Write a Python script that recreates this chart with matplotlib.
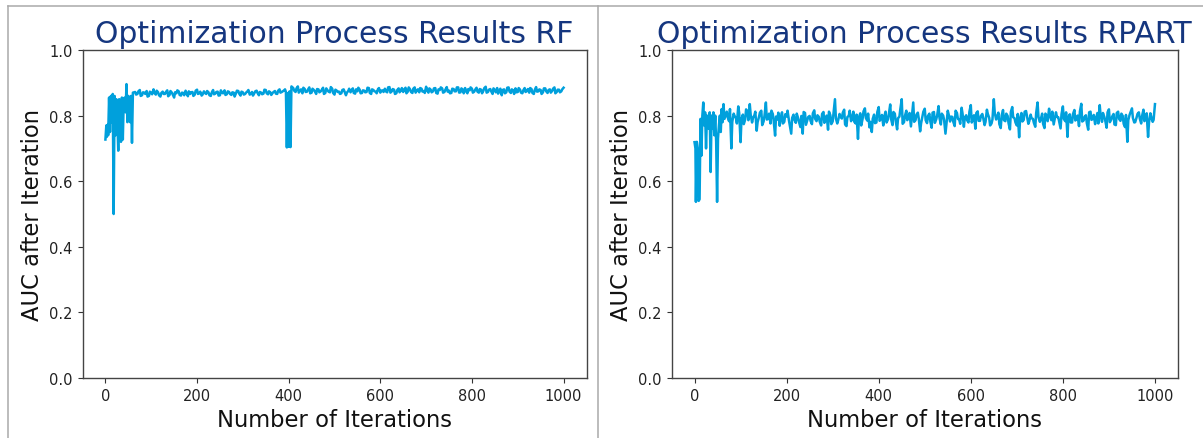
import numpy as np
import matplotlib.pyplot as plt
from matplotlib.lines import Line2D

# --- RF optimisation run (AUC per iteration) ---
rf_early_iter = [0, 2, 3, 5, 6] + list(range(8, 61, 2))
rf_early_auc = [0.727, 0.770, 0.735, 0.772, 0.74, 0.855, 0.75, 0.86, 0.78, 0.866,
                0.500, 0.86, 0.74, 0.85, 0.79, 0.693, 0.85, 0.84, 0.72, 0.855,
                0.727, 0.85, 0.855, 0.81, 0.896, 0.78, 0.86, 0.855, 0.78, 0.86,
                0.717, 0.87]

rf_mid_iter = list(range(65, 391, 5))
rf_mid_auc = [0.872, 0.866, 0.878, 0.862, 0.870, 0.875, 0.860, 0.869, 0.880, 0.864,
              0.871, 0.858, 0.873, 0.866, 0.877, 0.863, 0.870, 0.855, 0.868, 0.874,
              0.861, 0.869, 0.876, 0.859, 0.866, 0.872, 0.864, 0.879, 0.868, 0.861,
              0.874, 0.866, 0.871, 0.860, 0.878, 0.867, 0.873, 0.862, 0.869, 0.877,
              0.865, 0.872, 0.863, 0.870, 0.868, 0.875, 0.861, 0.871, 0.866, 0.874,
              0.864, 0.872, 0.868, 0.876, 0.862, 0.870, 0.867, 0.878, 0.865, 0.871,
              0.869, 0.875, 0.866, 0.880, 0.872, 0.877]
rf_mid2_iter = list(range(67, 391, 5))
rf_mid2_auc = [0.864, 0.874, 0.860, 0.871, 0.866, 0.858, 0.873, 0.865, 0.870, 0.876,
               0.862, 0.869, 0.866, 0.872, 0.859, 0.875, 0.864, 0.871, 0.877, 0.863,
               0.870, 0.862, 0.868, 0.874, 0.871, 0.860, 0.876, 0.866, 0.873, 0.864,
               0.869, 0.875, 0.862, 0.870, 0.865, 0.872, 0.861, 0.877, 0.868, 0.863,
               0.874, 0.866, 0.871, 0.858, 0.876, 0.867, 0.873, 0.864, 0.870, 0.878,
               0.866, 0.861, 0.874, 0.869, 0.872, 0.865, 0.879, 0.868, 0.874, 0.863,
               0.872, 0.867, 0.876, 0.870, 0.874]

rf_dip_iter = [392, 394, 396, 398, 400, 402, 404, 406]
rf_dip_auc = [0.880, 0.872, 0.703, 0.868, 0.705, 0.874, 0.704, 0.889]

rf_late_iter = list(range(410, 1001, 5))
rf_late_auc = [0.884, 0.872, 0.889, 0.876, 0.868, 0.881, 0.873, 0.886, 0.870, 0.878,
               0.866, 0.880, 0.874, 0.885, 0.869, 0.877, 0.871, 0.882, 0.864, 0.876,
               0.873, 0.868, 0.880, 0.862, 0.875, 0.871, 0.883, 0.867, 0.874, 0.879,
               0.869, 0.876, 0.872, 0.884, 0.866, 0.878, 0.873, 0.881, 0.870, 0.877,
               0.882, 0.871, 0.887, 0.874, 0.879, 0.868, 0.883, 0.876, 0.872, 0.885,
               0.873, 0.880, 0.869, 0.886, 0.877, 0.871, 0.882, 0.875, 0.888, 0.870,
               0.879, 0.874, 0.884, 0.867, 0.878, 0.883, 0.872, 0.887, 0.876, 0.869,
               0.881, 0.874, 0.886, 0.871, 0.879, 0.884, 0.868, 0.877, 0.882, 0.873,
               0.885, 0.870, 0.879, 0.876, 0.888, 0.872, 0.881, 0.866, 0.878, 0.884,
               0.874, 0.862, 0.880, 0.871, 0.886, 0.869, 0.877, 0.883, 0.872, 0.879,
               0.868, 0.884, 0.875, 0.870, 0.881, 0.866, 0.887, 0.874, 0.878, 0.871,
               0.883, 0.869, 0.880, 0.875, 0.886, 0.872, 0.879, 0.874, 0.885]
rf_late2_iter = list(range(412, 1001, 5))
rf_late2_auc = [0.876, 0.883, 0.870, 0.880, 0.885, 0.872, 0.879, 0.868, 0.882, 0.874,
                0.881, 0.871, 0.878, 0.866, 0.883, 0.873, 0.887, 0.869, 0.879, 0.872,
                0.866, 0.878, 0.873, 0.870, 0.882, 0.877, 0.869, 0.880, 0.885, 0.868,
                0.877, 0.871, 0.885, 0.869, 0.880, 0.874, 0.868, 0.884, 0.876, 0.872,
                0.874, 0.886, 0.870, 0.881, 0.866, 0.878, 0.871, 0.884, 0.879, 0.868,
                0.886, 0.872, 0.882, 0.870, 0.880, 0.884, 0.873, 0.869, 0.878, 0.883,
                0.871, 0.883, 0.869, 0.880, 0.886, 0.870, 0.879, 0.873, 0.868, 0.882,
                0.874, 0.886, 0.870, 0.883, 0.868, 0.875, 0.881, 0.886, 0.870, 0.879,
                0.873, 0.881, 0.868, 0.884, 0.870, 0.879, 0.874, 0.883, 0.871, 0.867,
                0.882, 0.878, 0.868, 0.885, 0.873, 0.880, 0.866, 0.871, 0.884, 0.870,
                0.877, 0.872, 0.881, 0.884, 0.869, 0.878, 0.873, 0.880, 0.866, 0.883,
                0.874, 0.878, 0.870, 0.882, 0.868, 0.879, 0.871, 0.880]

# --- RPART optimisation run ---
rp_early_iter = [0, 2, 3] + list(range(5, 66, 2))
rp_early_auc = [0.719, 0.70, 0.537, 0.72, 0.70, 0.54, 0.545, 0.79, 0.678, 0.80,
                0.84, 0.77, 0.81, 0.70, 0.80, 0.79, 0.76, 0.81, 0.628, 0.80,
                0.76, 0.81, 0.74, 0.80, 0.72, 0.537, 0.73, 0.77, 0.80, 0.75,
                0.82, 0.78, 0.835, 0.79]

rp_late_iter = list(range(70, 1001, 5))
rp_late_auc = [0.812, 0.783, 0.700, 0.806, 0.792, 0.828, 0.719, 0.803, 0.788, 0.812,
               0.835, 0.779, 0.801, 0.754, 0.796, 0.815, 0.782, 0.840, 0.790, 0.776,
               0.805, 0.739, 0.788, 0.769, 0.810, 0.781, 0.797, 0.786, 0.745, 0.803,
               0.778, 0.792, 0.765, 0.745, 0.808, 0.787, 0.799, 0.774, 0.816, 0.783,
               0.796, 0.770, 0.811, 0.789, 0.757, 0.801, 0.782, 0.850, 0.776, 0.805,
               0.791, 0.818, 0.768, 0.799, 0.783, 0.812, 0.776, 0.729, 0.807, 0.790,
               0.822, 0.785, 0.764, 0.750, 0.803, 0.779, 0.826, 0.791, 0.770, 0.812,
               0.788, 0.834, 0.771, 0.806, 0.758, 0.797, 0.850, 0.780, 0.815, 0.793,
               0.767, 0.840, 0.786, 0.809, 0.752, 0.798, 0.821, 0.777, 0.806, 0.763,
               0.811, 0.789, 0.829, 0.773, 0.800, 0.745, 0.815, 0.782, 0.796, 0.768,
               0.808, 0.787, 0.824, 0.766, 0.801, 0.779, 0.832, 0.790, 0.760, 0.813,
               0.784, 0.805, 0.771, 0.818, 0.793, 0.776, 0.850, 0.788, 0.809, 0.762,
               0.817, 0.783, 0.799, 0.758, 0.826, 0.792, 0.770, 0.734, 0.808, 0.787,
               0.814, 0.775, 0.803, 0.790, 0.766, 0.840, 0.781, 0.806, 0.762, 0.797,
               0.821, 0.786, 0.773, 0.810, 0.795, 0.761, 0.828, 0.783, 0.735, 0.804,
               0.779, 0.817, 0.792, 0.768, 0.836, 0.785, 0.801, 0.757, 0.812, 0.790,
               0.774, 0.808, 0.832, 0.781, 0.796, 0.763, 0.819, 0.788, 0.805, 0.771,
               0.812, 0.784, 0.799, 0.765, 0.720, 0.803, 0.822, 0.779, 0.794, 0.810,
               0.776, 0.818, 0.790, 0.735, 0.807, 0.781, 0.835]
rp_late2_iter = list(range(72, 1001, 5))
rp_late2_auc = [0.795, 0.820, 0.781, 0.799, 0.776, 0.808, 0.790, 0.774, 0.819, 0.786,
                0.802, 0.793, 0.812, 0.780, 0.809, 0.771, 0.800, 0.788, 0.806, 0.815,
                0.783, 0.797, 0.809, 0.792, 0.776, 0.804, 0.815, 0.770, 0.793, 0.787,
                0.806, 0.780, 0.799, 0.811, 0.772, 0.796, 0.784, 0.807, 0.790, 0.801,
                0.781, 0.805, 0.778, 0.800, 0.812, 0.774, 0.809, 0.791, 0.786, 0.797,
                0.809, 0.773, 0.796, 0.815, 0.790, 0.781, 0.803, 0.795, 0.770, 0.813,
                0.793, 0.806, 0.781, 0.790, 0.777, 0.811, 0.784, 0.802, 0.797, 0.779,
                0.804, 0.789, 0.811, 0.783, 0.792, 0.820, 0.775, 0.799, 0.786, 0.808,
                0.795, 0.781, 0.803, 0.791, 0.776, 0.812, 0.786, 0.799, 0.783, 0.809,
                0.778, 0.801, 0.793, 0.806, 0.787, 0.772, 0.803, 0.797, 0.781, 0.815,
                0.790, 0.775, 0.807, 0.794, 0.786, 0.812, 0.779, 0.801, 0.808, 0.784,
                0.799, 0.793, 0.781, 0.805, 0.770, 0.788, 0.809, 0.795, 0.774, 0.800,
                0.786, 0.806, 0.777, 0.811, 0.795, 0.779, 0.805, 0.790, 0.782, 0.812,
                0.798, 0.783, 0.792, 0.778, 0.808, 0.795, 0.789, 0.775, 0.806, 0.783,
                0.800, 0.812, 0.788, 0.796, 0.781, 0.804, 0.790, 0.810, 0.796, 0.779,
                0.805, 0.785, 0.800, 0.813, 0.782, 0.796, 0.777, 0.810, 0.787, 0.802,
                0.791, 0.776, 0.799, 0.808, 0.785, 0.810, 0.780, 0.797, 0.773, 0.808,
                0.790, 0.806, 0.775, 0.802, 0.786, 0.811, 0.793, 0.780, 0.805, 0.791,
                0.799, 0.783, 0.807, 0.779, 0.796, 0.787]


def merge(iters, aucs):
    x = np.concatenate([np.asarray(i, float) for i in iters])
    y = np.concatenate([np.asarray(a, float) for a in aucs])
    order = np.argsort(x, kind='stable')
    return x[order], y[order]


rf_iter, rf_auc = merge([rf_early_iter, rf_mid_iter, rf_mid2_iter, rf_dip_iter, rf_late_iter, rf_late2_iter],
                        [rf_early_auc, rf_mid_auc, rf_mid2_auc, rf_dip_auc, rf_late_auc, rf_late2_auc])
rp_iter, rp_auc = merge([rp_early_iter, rp_late_iter, rp_late2_iter],
                        [rp_early_auc, rp_late_auc, rp_late2_auc])

titles = ['Optimization Process Results RF', 'Optimization Process Results RPART']

line_color = '#00a0dc'
title_color = '#15367f'

fig = plt.figure(figsize=(12.03, 4.39), dpi=100)
ax1 = fig.add_axes([82.5/1203, 1 - 379/439, 504/1203, 328/439])
ax2 = fig.add_axes([671.5/1203, 1 - 379/439, 506.5/1203, 328/439])

for ax, x, y, t in [(ax1, rf_iter, rf_auc, titles[0]), (ax2, rp_iter, rp_auc, titles[1])]:
    ax.plot(x, y, color=line_color, lw=1.8)
    ax.set_ylim(0, 1)
    ax.set_xticks([0, 200, 400, 600, 800, 1000])
    ax.set_title(t, fontsize=21.5, color=title_color)
    ax.set_xlabel('Number of Iterations', fontsize=16.3, color='#111111')
    ax.set_ylabel('AUC after Iteration', fontsize=16.3, color='#111111')
    ax.tick_params(labelsize=10.5, colors='#333333', labelcolor='#222222')
    for s in ax.spines.values():
        s.set_color('#444444')
        s.set_linewidth(1.0)

# slide frame lines
frame = '#aaaaaa'
fig.add_artist(Line2D([8/1203, 1], [1 - 7/439, 1 - 7/439], transform=fig.transFigure, color=frame, lw=1.1))
fig.add_artist(Line2D([8/1203, 8/1203], [0, 1 - 7/439], transform=fig.transFigure, color=frame, lw=1.1))
fig.add_artist(Line2D([598/1203, 598/1203], [0, 1 - 7/439], transform=fig.transFigure, color=frame, lw=1.1))

fig.savefig('out.png', dpi=100)
